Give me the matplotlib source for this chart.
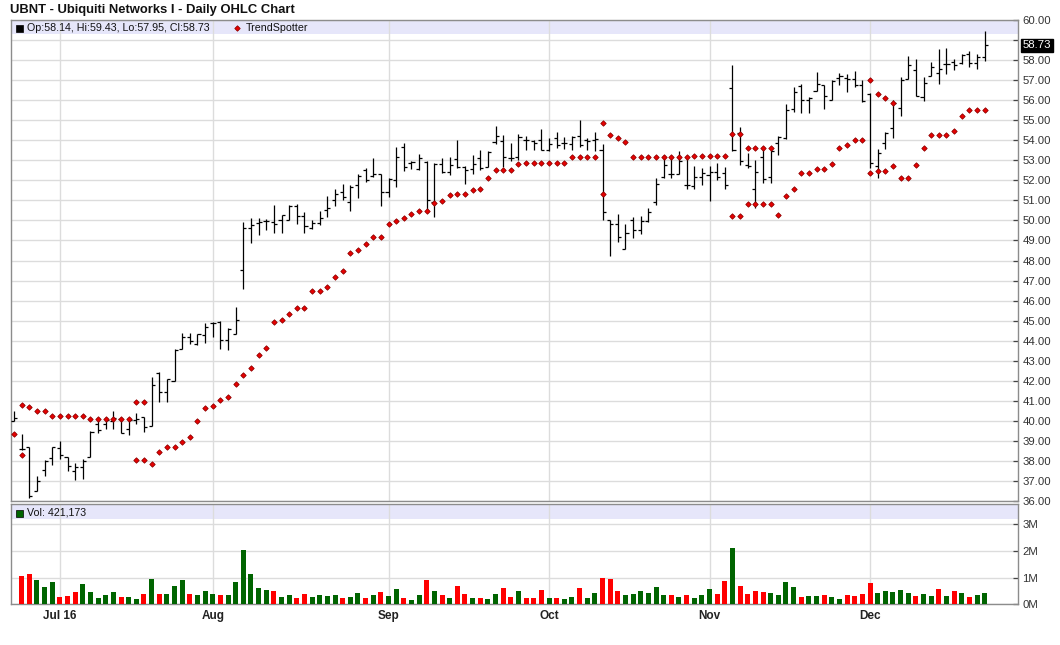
import numpy as np
import pandas as pd
import matplotlib
matplotlib.use("Agg")
import matplotlib.pyplot as plt
from matplotlib.lines import Line2D
from matplotlib.patches import Rectangle
import matplotlib.transforms as mtransforms

plt.rcParams['font.family'] = ['Liberation Sans', 'DejaVu Sans']

# ---------------- data ----------------
opens = [40.0, 38.6, 38.7, 36.5, 37.55, 38.15, 38.65, 38.2, 37.5, 37.7,
         38.2, 39.85, 39.85, 40.0, 40.1, 39.6, 40.05, 40.2, 39.75, 42.4,
         41.45, 42.0, 43.6, 44.2, 43.85, 44.3, 44.9, 44.95, 44.05, 44.35,
         47.55, 49.6, 49.85, 49.95, 49.9, 50.0, 50.0, 50.7, 50.2, 49.6,
         49.85, 50.5, 51.0, 51.4, 50.9, 51.75, 52.5, 52.2, 52.3, 51.4,
         52.0, 53.65, 52.85, 52.55, 52.9, 50.9, 52.8, 52.4, 53.05, 52.65,
         52.55, 53.1, 52.65, 53.9, 53.95, 53.1, 53.15, 54.0, 53.95, 54.0,
         53.5, 54.1, 53.85, 53.8, 54.2, 54.0, 54.0, 53.5, 50.0, 49.8,
         48.55, 50.0, 49.5, 49.95, 50.9, 52.15, 52.3, 52.3, 51.75, 51.7,
         52.15, 52.25, 52.4, 52.35, 56.6, 54.35, 52.75, 51.55, 53.15, 52.15,
         53.85, 54.1, 55.55, 56.7, 56.0, 56.45, 56.75, 56.0, 57.1, 57.1,
         57.05, 56.75, 56.3, 52.7, 53.85, 54.6, 55.6, 57.05, 57.5, 56.15,
         57.2, 57.35, 57.8, 57.9, 57.85, 58.3, 57.85, 58.14]
highs = [40.5, 39.35, 38.7, 37.25, 38.05, 38.7, 39.0, 38.2, 37.9, 38.1,
         39.5, 40.05, 40.2, 40.5, 40.15, 40.15, 40.4, 40.2, 42.2, 42.45,
         42.1, 43.6, 44.4, 44.4, 44.35, 44.9, 44.95, 45.0, 44.65, 45.7,
         49.9, 50.1, 50.1, 50.05, 50.75, 50.25, 50.75, 50.8, 50.4, 50.0,
         50.45, 51.2, 51.55, 51.8, 51.75, 52.3, 52.6, 53.1, 52.3, 52.1,
         53.65, 53.85, 52.95, 53.3, 52.95, 52.85, 53.1, 53.15, 54.0, 52.7,
         53.25, 53.5, 53.45, 54.7, 54.25, 53.85, 54.3, 54.2, 54.0, 54.55,
         54.1, 54.4, 54.15, 54.2, 55.0, 54.1, 54.4, 53.8, 50.0, 50.3,
         49.8, 50.15, 50.2, 50.6, 52.1, 53.25, 53.15, 53.45, 53.15, 52.7,
         52.6, 52.7, 52.85, 52.65, 57.75, 54.65, 53.35, 53.0, 53.65, 53.5,
         54.2, 55.8, 56.65, 56.8, 56.15, 57.4, 56.75, 57.0, 57.35, 57.3,
         57.45, 57.0, 56.35, 53.55, 54.4, 56.0, 57.15, 58.2, 58.05, 57.15,
         57.9, 58.55, 58.6, 58.05, 58.3, 58.45, 58.3, 59.43]
lows = [40.0, 38.55, 36.15, 36.5, 37.25, 37.8, 38.1, 37.5, 37.05, 37.1,
        38.2, 39.4, 39.6, 39.6, 39.4, 39.3, 39.85, 39.45, 39.75, 40.95,
        40.95, 42.0, 43.6, 43.85, 43.8, 43.9, 44.2, 43.6, 43.55, 44.35,
        46.6, 48.85, 49.25, 49.5, 49.35, 49.35, 50.0, 49.8, 49.35, 49.55,
        49.75, 50.15, 50.7, 51.0, 50.45, 51.1, 51.9, 52.15, 50.7, 51.15,
        51.65, 52.45, 52.55, 52.5, 50.5, 50.15, 52.35, 52.25, 52.6, 51.8,
        52.3, 52.5, 52.65, 53.8, 52.65, 52.95, 53.0, 53.5, 53.5, 53.5,
        53.45, 53.6, 53.55, 53.5, 53.65, 53.5, 53.45, 50.0, 48.2, 48.9,
        48.55, 49.1, 49.3, 49.9, 50.75, 52.1, 52.1, 52.3, 51.55, 51.55,
        51.75, 50.95, 52.0, 51.55, 53.45, 52.75, 52.6, 50.6, 51.85, 51.85,
        53.25, 54.05, 55.4, 55.35, 55.35, 56.45, 55.55, 56.0, 56.75, 56.4,
        56.65, 55.9, 52.6, 52.1, 53.55, 54.1, 55.2, 57.05, 56.2, 55.95,
        57.2, 56.8, 57.3, 57.5, 57.8, 57.65, 57.55, 57.95]
closes = [40.15, 38.6, 36.25, 37.0, 38.0, 38.7, 38.3, 37.75, 37.7, 38.0,
          39.45, 39.55, 40.05, 40.15, 39.4, 40.05, 40.1, 39.7, 41.8, 41.45,
          42.1, 43.55, 44.2, 44.0, 44.35, 44.7, 44.9, 44.05, 44.6, 45.05,
          49.6, 49.75, 49.9, 49.95, 49.8, 50.25, 50.7, 50.2, 49.7, 49.85,
          50.1, 50.6, 51.3, 51.15, 51.65, 52.2, 52.0, 52.3, 51.4, 52.05,
          53.15, 52.65, 52.9, 53.1, 51.0, 52.8, 52.4, 52.75, 52.65, 52.5,
          52.8, 52.6, 53.4, 54.2, 53.15, 53.1, 54.15, 54.0, 53.85, 53.5,
          53.8, 53.75, 53.85, 54.15, 53.75, 53.95, 54.05, 50.4, 49.8, 49.15,
          49.35, 49.5, 49.95, 50.4, 51.8, 52.75, 52.3, 52.95, 51.75, 52.15,
          52.35, 52.4, 52.15, 51.75, 53.5, 52.95, 52.7, 52.4, 52.05, 53.45,
          54.15, 55.5, 56.4, 56.0, 56.1, 56.8, 56.2, 56.95, 57.2, 57.05,
          56.75, 55.95, 52.85, 53.35, 54.35, 55.85, 57.0, 57.75, 56.2, 56.85,
          57.65, 57.55, 57.8, 57.75, 58.25, 57.85, 58.15, 58.73]
# volume in millions (first bar not shown in the reference)
volume_m = [np.nan, 1.05, 1.13, 0.90, 0.64, 0.83, 0.26, 0.30, 0.45, 0.75,
            0.45, 0.23, 0.34, 0.45, 0.26, 0.26, 0.19, 0.38, 0.94, 0.38,
            0.38, 0.68, 0.90, 0.38, 0.34, 0.49, 0.38, 0.34, 0.34, 0.83,
            2.03, 1.13, 0.60, 0.53, 0.49, 0.26, 0.34, 0.23, 0.38, 0.26,
            0.34, 0.30, 0.34, 0.23, 0.26, 0.41, 0.23, 0.34, 0.45, 0.30,
            0.56, 0.23, 0.15, 0.34, 0.90, 0.49, 0.34, 0.23, 0.68, 0.38,
            0.23, 0.23, 0.19, 0.38, 0.60, 0.26, 0.49, 0.25, 0.23, 0.55,
            0.23, 0.23, 0.19, 0.26, 0.60, 0.23, 0.41, 0.98, 0.94, 0.49,
            0.34, 0.38, 0.49, 0.41, 0.64, 0.34, 0.34, 0.26, 0.34, 0.23,
            0.34, 0.56, 0.38, 0.86, 2.10, 0.68, 0.38, 0.49, 0.45, 0.41,
            0.34, 0.83, 0.64, 0.26, 0.30, 0.30, 0.34, 0.26, 0.19, 0.34,
            0.30, 0.38, 0.79, 0.41, 0.49, 0.45, 0.53, 0.41, 0.30, 0.38,
            0.30, 0.56, 0.30, 0.49, 0.41, 0.26, 0.34, 0.421173]
trend_main = [39.35, 40.78, 40.68, 40.48, 40.48, 40.24, 40.24, 40.24, 40.24, 40.24,
              40.09, 40.09, 40.09, 40.09, 40.09, 40.09, 40.93, 40.93, 37.87, 38.44,
              38.69, 38.69, 38.94, 39.19, 39.99, 40.63, 40.73, 41.03, 41.18, 41.83,
              42.28, 42.63, 43.28, 43.63, 44.92, 45.02, 45.32, 45.62, 45.62, 46.47,
              46.47, 46.67, 47.17, 47.47, 48.37, 48.51, 48.83, 49.18, 49.18, 49.83,
              49.98, 50.13, 50.33, 50.48, 50.48, 50.88, 50.98, 51.28, 51.33, 51.33,
              51.53, 51.58, 52.13, 52.53, 52.53, 52.53, 52.83, 52.88, 52.88, 52.88,
              52.88, 52.88, 52.88, 53.18, 53.18, 53.18, 53.18, 54.88, 54.28, 54.13,
              53.93, 53.18, 53.18, 53.18, 53.18, 53.18, 53.18, 53.18, 53.18, 53.2,
              53.2, 53.2, 53.2, 53.2, 54.33, 54.33, 53.63, 53.63, 53.63, 53.63,
              50.25, 51.2, 51.58, 52.38, 52.38, 52.58, 52.58, 52.83, 53.63, 53.78,
              54.0, 54.0, 57.0, 56.33, 56.13, 55.88, 52.13, 52.13, 52.78, 53.63,
              54.28, 54.28, 54.28, 54.45, 55.2, 55.53, 55.53, 55.53]
N = np.nan
trend_alt = [N, 38.29, N, N, N, N, N, N, N, N,
             N, N, N, N, N, N, 38.04, 38.04, N, N,
             N, N, N, N, N, N, N, N, N, N,
             N, N, N, N, N, N, N, N, N, N,
             N, N, N, N, N, N, N, N, N, N,
             N, N, N, N, N, N, N, N, N, N,
             N, N, N, N, N, N, N, N, N, N,
             N, N, N, N, N, N, N, 51.33, N, N,
             N, N, N, N, N, N, N, N, N, N,
             N, N, N, N, 50.2, 50.2, 50.8, 50.8, 50.8, 50.8,
             N, N, N, N, N, N, N, N, N, N,
             N, N, 52.38, 52.47, 52.47, 52.7, N, N, N, N,
             N, N, N, N, N, N, N, N]
month_labels = ['Jul 16', 'Aug', 'Sep', 'Oct', 'Nov', 'Dec']
price_ticks = [36, 37, 38, 39, 40, 41, 42, 43, 44, 45, 46, 47, 48, 49, 50,
               51, 52, 53, 54, 55, 56, 57, 58, 59, 60]
vol_ticks = [0, 1, 2, 3]
title = "UBNT - Ubiquiti Networks I - Daily OHLC Chart"

# trading dates (for month gridline positions)
dates = pd.bdate_range('2016-06-23', '2016-12-22')
dates = dates[~dates.isin(pd.to_datetime(['2016-07-04', '2016-09-05', '2016-11-24']))]
dates = dates[:len(closes)]
month_pos = []
for m in [7, 8, 9, 10, 11, 12]:
    idx = np.where(dates.month == m)[0]
    month_pos.append(int(idx[0]))

# ---------------- figure ----------------
W, H = 1060, 645
fig = plt.figure(figsize=(W / 100, H / 100), dpi=100)
fig.patch.set_facecolor('white')


def fx(px):
    return px / W


def fy(py):
    return 1 - py / H


L, R = 10.5, 1018.3
ax = fig.add_axes([fx(L), fy(501), fx(R - L), (501 - 20) / H])
axv = fig.add_axes([fx(L), fy(604.3), fx(R - L), (604.3 - 504.3) / H])

x = np.arange(len(closes))
o = np.array(opens); h = np.array(highs); l = np.array(lows); c = np.array(closes)
xlim = (-0.46, 131.4)
grid_c = '#dcdcdc'
spine_c = '#8c8c8c'
lab_c = '#333333'

for a in (ax, axv):
    a.set_xlim(*xlim)
    for s in a.spines.values():
        s.set_color(spine_c)
        s.set_linewidth(1.0)
    a.set_xticks(month_pos)
    a.tick_params(axis='x', length=0, labelbottom=False)
    a.yaxis.tick_right()
    a.tick_params(axis='y', direction='in', length=3.6, width=0.9, color='#444444',
                  labelsize=8.2, labelcolor=lab_c, pad=3)
    a.grid(True, color=grid_c, linewidth=1.0, zorder=0)
    a.set_axisbelow(True)

# price panel
ax.set_ylim(36, 60)
ax.set_yticks(price_ticks)
ax.set_yticklabels(['' if t == 59 else f"{t:.2f}" for t in price_ticks])
ax.axhspan(59.29, 60, color='#e6e6fa', zorder=0.5, lw=0)
tl = 0.40
ax.vlines(x, l, h, color='black', lw=0.9, zorder=3)
ax.hlines(o, x - tl, x, color='black', lw=0.9, zorder=3)
ax.hlines(c, x, x + tl, color='black', lw=0.9, zorder=3)
mk = dict(marker='D', ls='none', ms=2.8, mfc='#e60000', mec='#8b0000', mew=0.55, zorder=4)
ax.plot(x, trend_main, **mk)
ax.plot(x, trend_alt, **mk)

# last price label
trans = mtransforms.blended_transform_factory(ax.transAxes, ax.transData)
ax.text(1.0 + 4.5 / (R - L), closes[-1], f"{closes[-1]:.2f}", transform=trans, fontsize=8.2,
        color='white', va='center', ha='left',
        bbox=dict(boxstyle='square,pad=0.15', fc='black', ec='black'))

# volume panel
vol = np.array(volume_m)
prev = np.concatenate([[c[0]], c[:-1]])
vcol = np.where(c >= prev, '#006400', '#ff0000')
axv.set_ylim(0, 3.75)
axv.set_yticks(vol_ticks)
axv.set_yticklabels([f"{t}M" for t in vol_ticks])
axv.axhspan(3.2, 3.75, color='#e6e6fa', zorder=0.5, lw=0)
axv.bar(x, np.nan_to_num(vol), width=0.65, color=vcol, zorder=3, linewidth=0)

# month labels below volume
for p, lab in zip(month_pos, month_labels):
    xf = fx(L + (p - xlim[0]) / (xlim[1] - xlim[0]) * (R - L))
    fig.text(xf, fy(616), lab, ha='center', va='center', fontsize=8.5,
             fontweight='bold', color='#222222')

# title
fig.text(fx(10), fy(10), title, ha='left', va='center', fontsize=9.4,
         fontweight='bold', color='#111111')

# legend rows
fig.add_artist(Rectangle((fx(15.5), fy(31.5)), fx(7), 6.5 / H, transform=fig.transFigure,
                         fc='black', ec='black', lw=0.5))
fig.text(fx(27), fy(27.8), f"Op:{opens[-1]:.2f}, Hi:{highs[-1]:.2f}, Lo:{lows[-1]:.2f}, Cl:{closes[-1]:.2f}",
         ha='left', va='center', fontsize=7.7, color='#111111')
fig.add_artist(Line2D([fx(236.5)], [fy(28)], transform=fig.transFigure, **mk))
fig.text(fx(245.5), fy(27.8), "TrendSpotter", ha='left', va='center', fontsize=7.7,
         color='#111111')

fig.add_artist(Rectangle((fx(15.5), fy(516.5)), fx(7), 7 / H, transform=fig.transFigure,
                         fc='#006400', ec='black', lw=0.5))
fig.text(fx(27), fy(512.8), f"Vol: {int(round(volume_m[-1] * 1e6)):,}", ha='left', va='center',
         fontsize=7.7, color='#111111')

fig.savefig('out.png', dpi=100, facecolor='white')
